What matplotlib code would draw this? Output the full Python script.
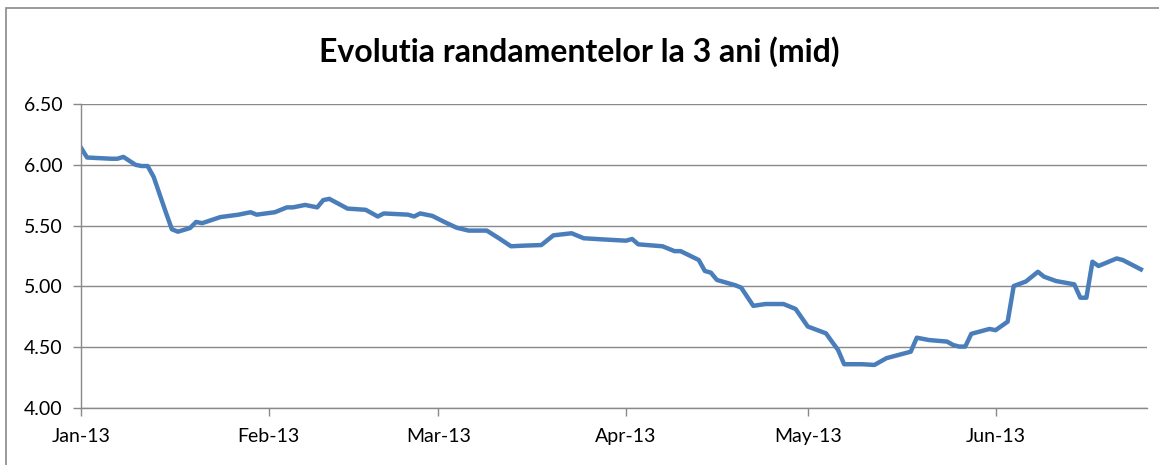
import matplotlib
matplotlib.use("Agg")
import matplotlib.pyplot as plt
import matplotlib.dates as mdates
import pandas as pd
from matplotlib.patches import Rectangle

plt.rcParams['font.family'] = ['Lato', 'DejaVu Sans']

# yield curve points (date, mid yield %)
dates = [
    "2013-01-01", "2013-01-02", "2013-01-06", "2013-01-07", "2013-01-08",
    "2013-01-10", "2013-01-11", "2013-01-12", "2013-01-13", "2013-01-15",
    "2013-01-16", "2013-01-17", "2013-01-19", "2013-01-20", "2013-01-21",
    "2013-01-24", "2013-01-27", "2013-01-29", "2013-01-30", "2013-02-02",
    "2013-02-04", "2013-02-05", "2013-02-07", "2013-02-09", "2013-02-10",
    "2013-02-11", "2013-02-14", "2013-02-17", "2013-02-19", "2013-02-20",
    "2013-02-24", "2013-02-25", "2013-02-26", "2013-02-28", "2013-03-02",
    "2013-03-04", "2013-03-06", "2013-03-09", "2013-03-11", "2013-03-13",
    "2013-03-15", "2013-03-18", "2013-03-20", "2013-03-23", "2013-03-25",
    "2013-03-28", "2013-04-01", "2013-04-02", "2013-04-03", "2013-04-07",
    "2013-04-09", "2013-04-10", "2013-04-13", "2013-04-14", "2013-04-15",
    "2013-04-16", "2013-04-19", "2013-04-20", "2013-04-21", "2013-04-22",
    "2013-04-24", "2013-04-27", "2013-04-29", "2013-05-01", "2013-05-04",
    "2013-05-05", "2013-05-06", "2013-05-07", "2013-05-10", "2013-05-12",
    "2013-05-14", "2013-05-18", "2013-05-19", "2013-05-21", "2013-05-24",
    "2013-05-25", "2013-05-26", "2013-05-27", "2013-05-28", "2013-05-31",
    "2013-06-01", "2013-06-03", "2013-06-04", "2013-06-06", "2013-06-08",
    "2013-06-09", "2013-06-11", "2013-06-14", "2013-06-15", "2013-06-16",
    "2013-06-17", "2013-06-18", "2013-06-21", "2013-06-22", "2013-06-25",
]
yields = [
    6.14, 6.06, 6.05, 6.05, 6.065,
    6.00, 5.99, 5.99, 5.90, 5.61,
    5.47, 5.45, 5.48, 5.53, 5.52,
    5.57, 5.59, 5.61, 5.59, 5.61,
    5.65, 5.65, 5.67, 5.65, 5.71,
    5.72, 5.64, 5.63, 5.575, 5.60,
    5.59, 5.575, 5.60, 5.58, 5.53,
    5.483, 5.459, 5.459, 5.396, 5.33,
    5.335, 5.34, 5.42, 5.437, 5.396,
    5.387, 5.376, 5.39, 5.346, 5.33,
    5.29, 5.29, 5.217, 5.127, 5.113,
    5.053, 5.01, 4.99, 4.915, 4.84,
    4.855, 4.855, 4.814, 4.67, 4.614,
    4.545, 4.477, 4.36, 4.36, 4.354,
    4.41, 4.463, 4.578, 4.559, 4.546,
    4.518, 4.505, 4.505, 4.61, 4.65,
    4.64, 4.71, 5.003, 5.04, 5.12,
    5.08, 5.044, 5.017, 4.907, 4.907,
    5.203, 5.168, 5.23, 5.217, 5.14,
]
yticks = [4.00, 4.50, 5.00, 5.50, 6.00, 6.50]
x_end = "2013-06-26"
title = "Evolutia randamentelor la 3 ani (mid)"

x = pd.to_datetime(dates)

fig = plt.figure(figsize=(11.59, 4.65), dpi=100)
ax = fig.add_axes([0.0699, 0.1226, 0.9197, 0.6537])

ax.plot(x, yields, color='#4a7ebb', lw=3.2, solid_joinstyle='round')

grey = '#898989'
ax.set_ylim(4.0, 6.5)
ax.set_yticks(yticks)
ax.set_yticklabels([f"{v:.2f}" for v in yticks])
ax.yaxis.grid(True, color=grey, lw=1)
ax.set_axisbelow(True)

ax.set_xlim(x[0], pd.Timestamp(x_end))
ax.xaxis.set_major_locator(mdates.MonthLocator())
ax.xaxis.set_major_formatter(mdates.DateFormatter('%b-%y'))

for s in ['top', 'right']:
    ax.spines[s].set_visible(False)
for s in ['left', 'bottom']:
    ax.spines[s].set_color(grey)
    ax.spines[s].set_linewidth(1)
ax.tick_params(axis='both', colors=grey, labelcolor='black', labelsize=14,
               length=5.5, width=1, direction='out')
ax.tick_params(axis='x', pad=9)
ax.tick_params(axis='y', pad=8)

fig.text(0.5, 0.888, title, ha='center', va='center', fontsize=23, fontweight='bold')

# chart area border (cut at the right/bottom of the picture)
fig.patches.append(Rectangle((6 / 1159, -0.05), 1.2, 1 - 8 / 465 + 0.05,
                             transform=fig.transFigure, fill=False,
                             edgecolor=grey, lw=1.2))

fig.savefig("out.png", dpi=100)
